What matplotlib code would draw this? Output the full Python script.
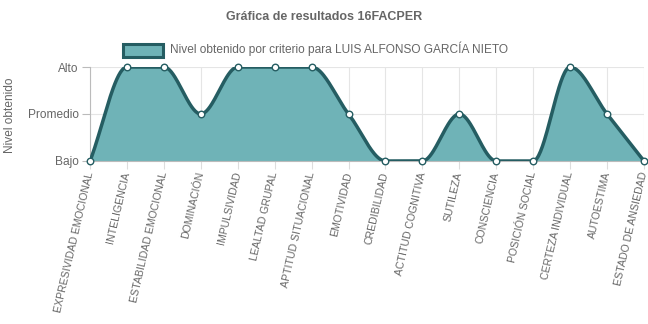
import numpy as np
import matplotlib
matplotlib.use("Agg")
import matplotlib.pyplot as plt
from matplotlib.patches import Rectangle

categories = ["EXPRESIVIDAD EMOCIONAL", "INTELIGENCIA", "ESTABILIDAD EMOCIONAL", "DOMINACIÓN",
              "IMPULSIVIDAD", "LEALTAD GRUPAL", "APTITUD SITUACIONAL", "EMOTIVIDAD",
              "CREDIBILIDAD", "ACTITUD COGNITIVA", "SUTILEZA", "CONSCIENCIA",
              "POSICIÓN SOCIAL", "CERTEZA INDIVIDUAL", "AUTOESTIMA", "ESTADO DE ANSIEDAD"]
values = [0, 2, 2, 1, 2, 2, 2, 1, 0, 0, 1, 0, 0, 2, 1, 0]
level_labels = ["Bajo", "Promedio", "Alto"]
series_label = "Nivel obtenido por criterio para LUIS ALFONSO GARCÍA NIETO"
title = "Gráfica de resultados 16FACPER"
ylabel = "Nivel obtenido"


def monotone(xs, ys, n=40):
    xs = np.asarray(xs, float); ys = np.asarray(ys, float)
    N = len(xs)
    d = np.diff(ys) / np.diff(xs)
    m = np.zeros(N)
    m[0] = d[0]; m[-1] = d[-1]
    for i in range(1, N - 1):
        if d[i - 1] * d[i] <= 0:
            m[i] = 0
        else:
            m[i] = (d[i - 1] + d[i]) / 2
    for i in range(N - 1):
        if d[i] == 0:
            m[i] = 0; m[i + 1] = 0
            continue
        a = m[i] / d[i]; b = m[i + 1] / d[i]
        s = a * a + b * b
        if s > 9:
            t = 3 / np.sqrt(s)
            m[i] = t * a * d[i]; m[i + 1] = t * b * d[i]
    X, Y = [], []
    for i in range(N - 1):
        h = xs[i + 1] - xs[i]
        t = np.linspace(0, 1, n, endpoint=(i == N - 2))
        h00 = 2 * t**3 - 3 * t**2 + 1
        h10 = t**3 - 2 * t**2 + t
        h01 = -2 * t**3 + 3 * t**2
        h11 = t**3 - t**2
        X.append(xs[i] + t * h)
        Y.append(h00 * ys[i] + h10 * h * m[i] + h01 * ys[i + 1] + h11 * h * m[i + 1])
    return np.concatenate(X), np.concatenate(Y)


fig = plt.figure(figsize=(6.48, 3.24), dpi=100)
ax = fig.add_axes([90 / 648, 1 - 161 / 324, (644 - 90) / 648, (161 - 67) / 324])

x = np.arange(len(categories))
xs, ys = monotone(x, values)
fill_c = "#6fb3b7"
line_c = "#255d62"
ax.fill_between(xs, 0, ys, color=fill_c, lw=0, zorder=2)
ax.plot(xs, ys, color=line_c, lw=2.5, zorder=3, solid_capstyle="round")
ax.scatter(x, values, s=22, facecolor="white", edgecolor=line_c, linewidth=1.0, zorder=4, clip_on=False)

ax.set_xlim(0, len(categories) - 1)
ax.set_ylim(0, 2)
ax.set_xticks(x)
ax.set_xticklabels(categories, rotation=77, ha="right", va="center",
                   rotation_mode="anchor", fontsize=7.6, color="#666666",
                   family="Liberation Sans")
ax.set_yticks([0, 1, 2])
ax.set_yticklabels(level_labels, fontsize=8.6, color="#666666", family="Liberation Sans")
ax.tick_params(axis="x", length=6, color="#dddddd", pad=2)
ax.tick_params(axis="y", length=6, color="#bbbbbb", pad=2)
ax.grid(True, color="#e5e5e5", lw=0.8, zorder=0)
ax.set_axisbelow(True)
for side in ["top", "right"]:
    ax.spines[side].set_visible(False)
ax.spines["left"].set_color("#bbbbbb")
ax.spines["bottom"].set_color("#bbbbbb")
ax.spines["left"].set_linewidth(0.8)
ax.spines["bottom"].set_linewidth(0.8)

fig.text(0.5, 1 - 17 / 324, title, ha="center", va="center", fontsize=9,
         fontweight="bold", color="#666666", family="Liberation Sans")
fig.text(10 / 648, 1 - 115 / 324, ylabel, ha="center", va="center", rotation=90,
         fontsize=8.6, color="#666666", family="Liberation Sans")

# legend
fig.patches.append(Rectangle((123 / 648, 1 - 57 / 324), 40 / 648, 13 / 324,
                             transform=fig.transFigure, facecolor=fill_c,
                             edgecolor=line_c, lw=2.2))
fig.text(170 / 648, 1 - 49 / 324, series_label, ha="left", va="center", fontsize=8.6,
         color="#666666", family="Liberation Sans")

fig.savefig("out.png", dpi=100)
